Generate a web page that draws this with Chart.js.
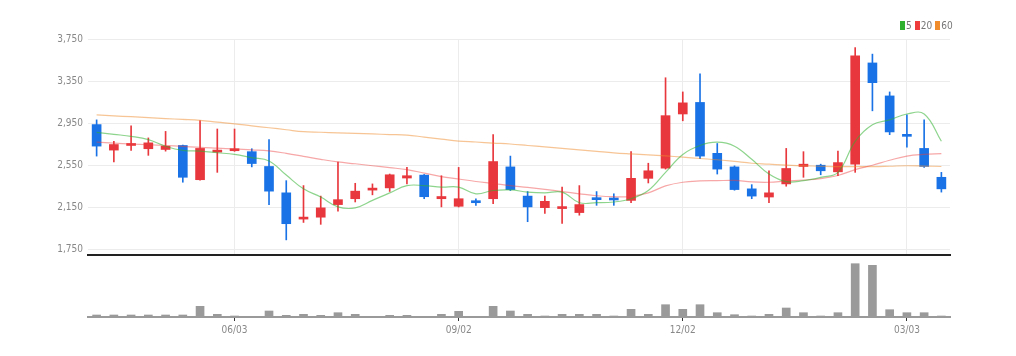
<!DOCTYPE html>
<html>
<head>
<meta charset="utf-8">
<script src="https://cdn.jsdelivr.net/npm/chart.js@4.4.1/dist/chart.umd.min.js"></script>
<style>
  html, body { margin:0; padding:0; background:#fff; width:1016px; height:356px; overflow:hidden; }
  #wrap { position:relative; width:1016px; height:356px; }
  canvas { position:absolute; left:0; }
  #price { top:0; }
  #vol { top:256px; }
  #legend { position:absolute; left:900px; top:20px; font:10px 'Liberation Sans Narrow','DejaVu Sans Condensed',sans-serif; color:#777; white-space:nowrap; }
  #legend .sw { display:inline-block; width:5px; height:9px; vertical-align:-1px; margin-right:1px; }
  #legend .it { margin-right:3px; }
</style>
</head>
<body>
<div id="wrap">
  <canvas id="price" width="1016" height="256"></canvas>
  <canvas id="vol" width="1016" height="100"></canvas>
  <div id="legend"></div>
</div>
<script>
// ---- data ----
const dates = ['04/08','04/15','04/22','04/29','05/06','05/13','05/20','05/27','06/03','06/10',
  '06/17','06/24','07/01','07/08','07/15','07/22','07/29','08/05','08/12','08/19',
  '08/26','09/02','09/09','09/16','09/23','09/30','10/07','10/14','10/21','10/28',
  '11/04','11/11','11/18','11/25','12/02','12/09','12/16','12/23','12/30','01/06',
  '01/13','01/20','01/27','02/03','02/10','02/17','02/24','03/03','03/10','03/17'];
const xTickLabels = ['06/03','09/02','12/02','03/03'];
const yTicks = [1750, 2150, 2550, 2950, 3350, 3750];

const opens  = [2935,2692,2736,2705,2698,2736,2410,2673,2686,2677,2536,2285,2035,2053,2173,2229,2311,2332,2426,2454,2229,2157,2203,2229,2532,2254,2144,2135,2097,2238,2235,2213,2423,2520,3036,3146,2661,2532,2323,2245,2370,2536,2548,2485,2558,3522,3208,2839,2708,2433];
const highs  = [2980,2776,2924,2808,2870,2740,2973,2893,2893,2705,2792,2401,2354,2254,2579,2376,2370,2464,2527,2460,2448,2527,2229,2839,2635,2297,2254,2339,2354,2297,2276,2677,2567,3381,3246,3419,2755,2542,2363,2495,2708,2677,2558,2682,3668,3606,3246,3027,2980,2480];
const lows   = [2635,2579,2689,2642,2682,2386,2405,2480,2680,2532,2173,1837,2003,1985,2110,2198,2266,2298,2370,2229,2151,2150,2166,2182,2307,2010,2088,1994,2072,2166,2166,2191,2379,2511,2971,2611,2464,2310,2229,2191,2348,2433,2457,2448,2480,3066,2839,2720,2527,2292];
const closes = [2730,2745,2752,2761,2729,2433,2708,2692,2705,2564,2301,1991,2048,2142,2220,2301,2329,2457,2448,2248,2250,2229,2191,2583,2316,2151,2204,2144,2173,2220,2217,2423,2495,3020,3142,2635,2511,2316,2254,2285,2517,2558,2495,2573,3590,3334,2865,2823,2536,2323];

const ma5  = [2861,2842,2823,2792,2729,2689,2682,2667,2651,2620,2589,2454,2323,2245,2151,2142,2213,2285,2354,2354,2339,2339,2276,2307,2313,2292,2285,2292,2191,2191,2198,2229,2307,2480,2651,2736,2767,2729,2604,2464,2391,2401,2433,2480,2776,2933,2980,3036,3036,2776];
const ma20 = [2767,2759,2750,2743,2736,2727,2717,2710,2703,2694,2684,2661,2633,2604,2579,2562,2543,2525,2506,2473,2440,2417,2393,2374,2354,2337,2318,2297,2276,2257,2248,2252,2285,2351,2386,2398,2401,2403,2389,2386,2398,2407,2421,2450,2506,2548,2595,2635,2651,2658];
const ma60 = [3027,3018,3010,3001,2992,2984,2975,2958,2942,2923,2905,2886,2867,2862,2856,2851,2846,2840,2835,2816,2797,2778,2769,2759,2750,2736,2722,2708,2694,2680,2666,2656,2647,2637,2625,2612,2600,2584,2567,2558,2548,2543,2538,2534,2534,2534,2538,2543,2540,2536];

const volumes = [20000,20000,20000,20000,20000,20000,107000,27000,10000,0,60000,17000,27000,17000,43000,27000,0,17000,17000,0,27000,57000,0,107000,60000,27000,10000,27000,27000,27000,10000,77000,27000,123000,77000,123000,43000,23000,10000,27000,90000,43000,10000,43000,533000,517000,73000,43000,43000,10000];

const maNames = ['5','20','60'];
const maColors = ['#2fb12f','#ee3b3b','#f08c2c'];

// ---- style ----
const RED = '#e8383d', BLUE = '#1a73e6';
const FONT = "'Liberation Sans Narrow','DejaVu Sans Condensed',sans-serif";
const candleColor = c => closes[c.dataIndex] >= opens[c.dataIndex] ? RED : BLUE;

document.getElementById('legend').innerHTML = maNames.map((n, i) =>
  '<span class="it"><span class="sw" style="background:' + maColors[i] + '"></span>' + n + '</span>').join('');

function maDs(data, color) {
  return { type:'line', data, borderColor: color, borderWidth: 1.2, pointRadius: 0,
           tension: 0.4, fill: false, order: 0 };
}

new Chart(document.getElementById('price'), {
  type: 'bar',
  data: {
    labels: dates,
    datasets: [
      maDs(ma5,  'rgba(47,177,47,0.55)'),
      maDs(ma20, 'rgba(238,59,59,0.45)'),
      maDs(ma60, 'rgba(240,140,44,0.5)'),
      { data: dates.map((_, i) => [opens[i], closes[i]]), backgroundColor: candleColor,
        barThickness: 9, minBarLength: 2, grouped: false, order: 1 },
      { data: dates.map((_, i) => [lows[i], highs[i]]), backgroundColor: candleColor,
        barThickness: 1, grouped: false, order: 2 }
    ]
  },
  options: {
    responsive: false, animation: false,
    layout: { padding: { top: 39, bottom: 1, left: 0, right: 66 } },
    plugins: { legend: { display: false }, tooltip: { enabled: false } },
    scales: {
      x: {
        offset: true,
        ticks: { display: false, autoSkip: false },
        grid: { offset: false, drawTicks: false,
                color: c => (c.tick && xTickLabels.includes(c.tick.label)) ? '#ececec' : 'rgba(0,0,0,0)' },
        border: { color: '#222', width: 2 },
        afterFit: s => { s.height = 0; s.paddingLeft = 0; s.paddingRight = 0; }
      },
      y: {
        min: 1693, max: 3750,
        afterBuildTicks: s => { s.ticks = yTicks.map(v => ({ value: v })); },
        ticks: { callback: v => v.toLocaleString('en-US'), color: '#888', font: { size: 10, family: FONT }, padding: 5 },
        grid: { color: '#ececec', drawTicks: false },
        border: { display: false },
        afterFit: s => { s.width = 88; s.paddingTop = 0; s.paddingBottom = 0; }
      }
    }
  }
});

new Chart(document.getElementById('vol'), {
  type: 'bar',
  data: {
    labels: dates,
    datasets: [{ data: volumes, backgroundColor: '#9a9a9a', barThickness: 8 }]
  },
  options: {
    responsive: false, animation: false,
    layout: { padding: { top: 2, bottom: 0, left: 88, right: 66 } },
    plugins: { legend: { display: false }, tooltip: { enabled: false } },
    scales: {
      x: {
        offset: true,
        ticks: { autoSkip: false, maxRotation: 0, minRotation: 0, color: '#888',
                 font: { size: 10, family: FONT }, padding: 3,
                 callback: (v, i) => xTickLabels.includes(dates[i]) ? dates[i] : '' },
        grid: { offset: false, drawOnChartArea: false, drawTicks: true, tickLength: 4,
                color: c => (c.tick && xTickLabels.includes(c.tick.label)) ? '#333' : 'rgba(0,0,0,0)' },
        border: { color: '#9a9a9a', width: 2 },
        afterFit: s => { s.height = 39; }
      },
      y: { display: false, min: 0, max: 590000 }
    }
  }
});
</script>
</body>
</html>
